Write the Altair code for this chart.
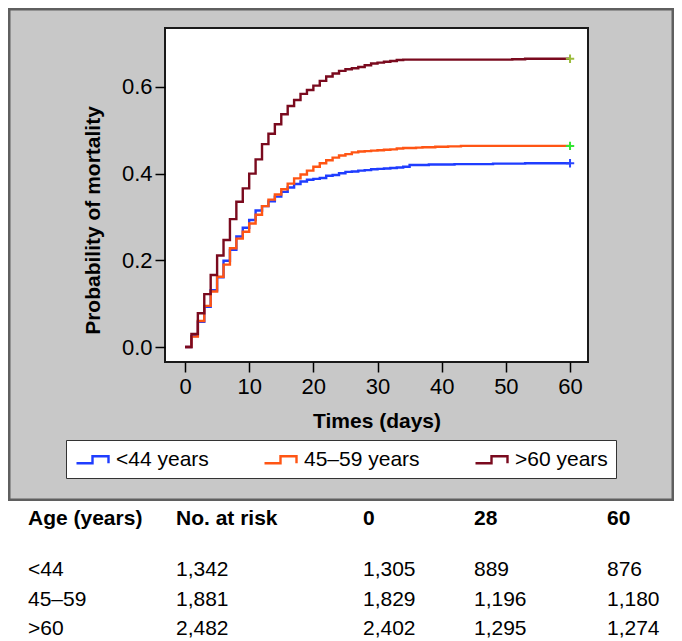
import altair as alt
import pandas as pd

# ---------------- data ----------------
groups = ["<44 years", "45–59 years", ">60 years"]
days = list(range(61))

prob_lt44 = [0.000, 0.025, 0.058, 0.093, 0.131, 0.161, 0.199, 0.224, 0.255, 0.275,
             0.293, 0.315, 0.325, 0.336, 0.347, 0.358, 0.368, 0.376, 0.382, 0.386,
             0.388, 0.390, 0.395, 0.397, 0.401, 0.404, 0.405, 0.407, 0.408, 0.410,
             0.411, 0.412, 0.413, 0.414, 0.416, 0.420, 0.420, 0.420, 0.421, 0.421,
             0.421, 0.421, 0.422, 0.422, 0.422, 0.422, 0.422, 0.422, 0.423, 0.423,
             0.423, 0.423, 0.423, 0.424, 0.424, 0.424, 0.424, 0.424, 0.424, 0.424, 0.424]

prob_45_59 = [0.000, 0.024, 0.060, 0.095, 0.128, 0.162, 0.190, 0.228, 0.250, 0.266,
              0.285, 0.305, 0.325, 0.340, 0.352, 0.364, 0.377, 0.389, 0.398, 0.407,
              0.416, 0.424, 0.431, 0.437, 0.442, 0.445, 0.449, 0.451, 0.452, 0.453,
              0.454, 0.455, 0.456, 0.458, 0.459, 0.459, 0.460, 0.461, 0.461, 0.462,
              0.462, 0.463, 0.463, 0.464, 0.464, 0.464, 0.464, 0.464, 0.464, 0.464,
              0.464, 0.464, 0.464, 0.464, 0.464, 0.464, 0.464, 0.464, 0.464, 0.464, 0.464]

prob_gt60 = [0.000, 0.030, 0.078, 0.122, 0.166, 0.211, 0.247, 0.295, 0.335, 0.366,
             0.400, 0.433, 0.468, 0.492, 0.514, 0.537, 0.556, 0.570, 0.584, 0.593,
             0.603, 0.614, 0.624, 0.631, 0.637, 0.641, 0.643, 0.646, 0.650, 0.654,
             0.656, 0.658, 0.660, 0.662, 0.663, 0.663, 0.663, 0.663, 0.663, 0.663,
             0.663, 0.663, 0.663, 0.663, 0.663, 0.663, 0.663, 0.663, 0.663, 0.663,
             0.663, 0.664, 0.664, 0.665, 0.665, 0.665, 0.665, 0.665, 0.665, 0.665, 0.665]

x_ticks = [0, 10, 20, 30, 40, 50, 60]
y_ticks = [0.0, 0.2, 0.4, 0.6]

table_header = ["Age (years)", "No. at risk", "0", "28", "60"]
table_age = ["<44", "45–59", ">60"]
at_risk_total = [1342, 1881, 2482]
at_risk_day0 = [1305, 1829, 2402]
at_risk_day28 = [889, 1196, 1295]
at_risk_day60 = [876, 1180, 1274]

# ---------------- styling ----------------
FONT = "Liberation Sans"
line_colors = ["#1f3dff", "#ff5514", "#7a0a1e"]
marker_colors = ["#2a46ff", "#33e633", "#9cbc3c"]
W, H = 423, 334

rows = []
for g, vals in zip(groups, [prob_lt44, prob_45_59, prob_gt60]):
    for d, v in zip(days, vals):
        rows.append({"day": d, "prob": v, "group": g})
km = pd.DataFrame(rows)
ends = km[km["day"] == days[-1]]

x_scale = alt.Scale(domain=[-3.12, 62.8], nice=False, zero=False)
y_scale = alt.Scale(domain=[-0.0346, 0.736], nice=False, zero=False)
dummy = alt.Data(values=[{"a": 1}])

panel = alt.Chart(dummy).mark_rect(fill="#c8c8c8", stroke="#5f5f5f", strokeWidth=2.5).encode(
    x=alt.value(-155.75), x2=alt.value(507.75), y=alt.value(-18.75), y2=alt.value(471.75))

frame = alt.Chart(dummy).mark_rect(fill="white", stroke="#1a1a1a", strokeWidth=2).encode(
    x=alt.value(0), x2=alt.value(W), y=alt.value(0), y2=alt.value(H))

x_axis = alt.Axis(values=x_ticks, format="d", domain=False, grid=False, tickSize=10, tickWidth=1.5,
                  tickColor="black", labelFont=FONT, labelFontSize=22, labelColor="black",
                  labelPadding=4, labelFlush=False, title="Times (days)", titleFont=FONT,
                  titleFontSize=21, titleFontWeight="bold", titleColor="black", titlePadding=13,
                  zindex=1)
y_axis = alt.Axis(values=y_ticks, format=".1f", domain=False, grid=False, tickSize=10, tickWidth=1.5,
                  tickColor="black", labelFont=FONT, labelFontSize=22, labelColor="black",
                  labelPadding=3, labelFlush=False, title="Probability of mortality", titleFont=FONT,
                  titleFontSize=21, titleFontWeight="bold", titleColor="black", titlePadding=18,
                  titleY=192, zindex=1)

legend = alt.Legend(title=None, orient="none", legendX=-99, legendY=412, direction="horizontal",
                    fillColor="white", strokeColor="#333333", padding=8,
                    symbolType="M-1.6,0.35H0V-0.35H1.6V0.35", symbolSize=400, symbolStrokeWidth=2.5,
                    symbolFillColor="transparent", symbolOffset=7,
                    labelFont=FONT, labelFontSize=21, labelColor="black", labelOffset=12,
                    columnPadding=50, zindex=1)

lines = alt.Chart(km).mark_line(interpolate="step-after").encode(
    x=alt.X("day:Q", scale=x_scale, axis=x_axis),
    y=alt.Y("prob:Q", scale=y_scale, axis=y_axis),
    color=alt.Color("group:N", scale=alt.Scale(domain=groups, range=line_colors), legend=legend),
    strokeWidth=alt.StrokeWidth("group:N", scale=alt.Scale(domain=groups, range=[2.4, 2.4, 3.2]),
                                legend=None),
)

markers = alt.Chart(ends).mark_point(shape="M-1,0H1M0,-1V1", size=70, filled=False,
                                     strokeWidth=2, opacity=1).encode(
    x=alt.X("day:Q", scale=x_scale),
    y=alt.Y("prob:Q", scale=y_scale),
    stroke=alt.Stroke("group:N", scale=alt.Scale(domain=groups, range=marker_colors), legend=None),
)

top = alt.layer(panel, frame, lines, markers).properties(width=W, height=H)

# ---------------- table ----------------
tab = pd.DataFrame({"age": table_age, "total": at_risk_total, "d0": at_risk_day0,
                    "d28": at_risk_day28, "d60": at_risk_day60})
TH = 139
col_x = [-137, 11, 198, 309, 442]
fields = [("age", "N", None), ("total", "Q", ","), ("d0", "Q", ","), ("d28", "Q", ","), ("d60", "Q", ",")]

tab_bg = alt.Chart(dummy).mark_rect(fill="white").encode(
    x=alt.value(-157), x2=alt.value(509), y=alt.value(0), y2=alt.value(TH))
tab_layers = [tab_bg]
row_y = alt.Y("age:N", scale=alt.Scale(type="point", domain=table_age, range=[69, 128], padding=0),
              axis=None)
for j, (f, t, fmt) in enumerate(fields):
    tab_layers.append(
        alt.Chart(dummy).mark_text(text=table_header[j], align="left", baseline="middle", font=FONT,
                                   fontSize=21, fontWeight="bold", color="black").encode(
            x=alt.value(col_x[j]), y=alt.value(18)))
    txt = alt.Text(f"{f}:{t}", format=fmt) if fmt else alt.Text(f"{f}:{t}")
    tab_layers.append(
        alt.Chart(tab).mark_text(align="left", baseline="middle", font=FONT, fontSize=21,
                                 color="black").encode(x=alt.value(col_x[j]), y=row_y, text=txt))

table = alt.layer(*tab_layers).properties(width=W, height=TH)

chart = alt.vconcat(top, table, spacing=0).properties(padding=0, background="white").configure_view(
    stroke=None)

chart.save("out.html", embed_options={"renderer": "svg", "actions": False})
